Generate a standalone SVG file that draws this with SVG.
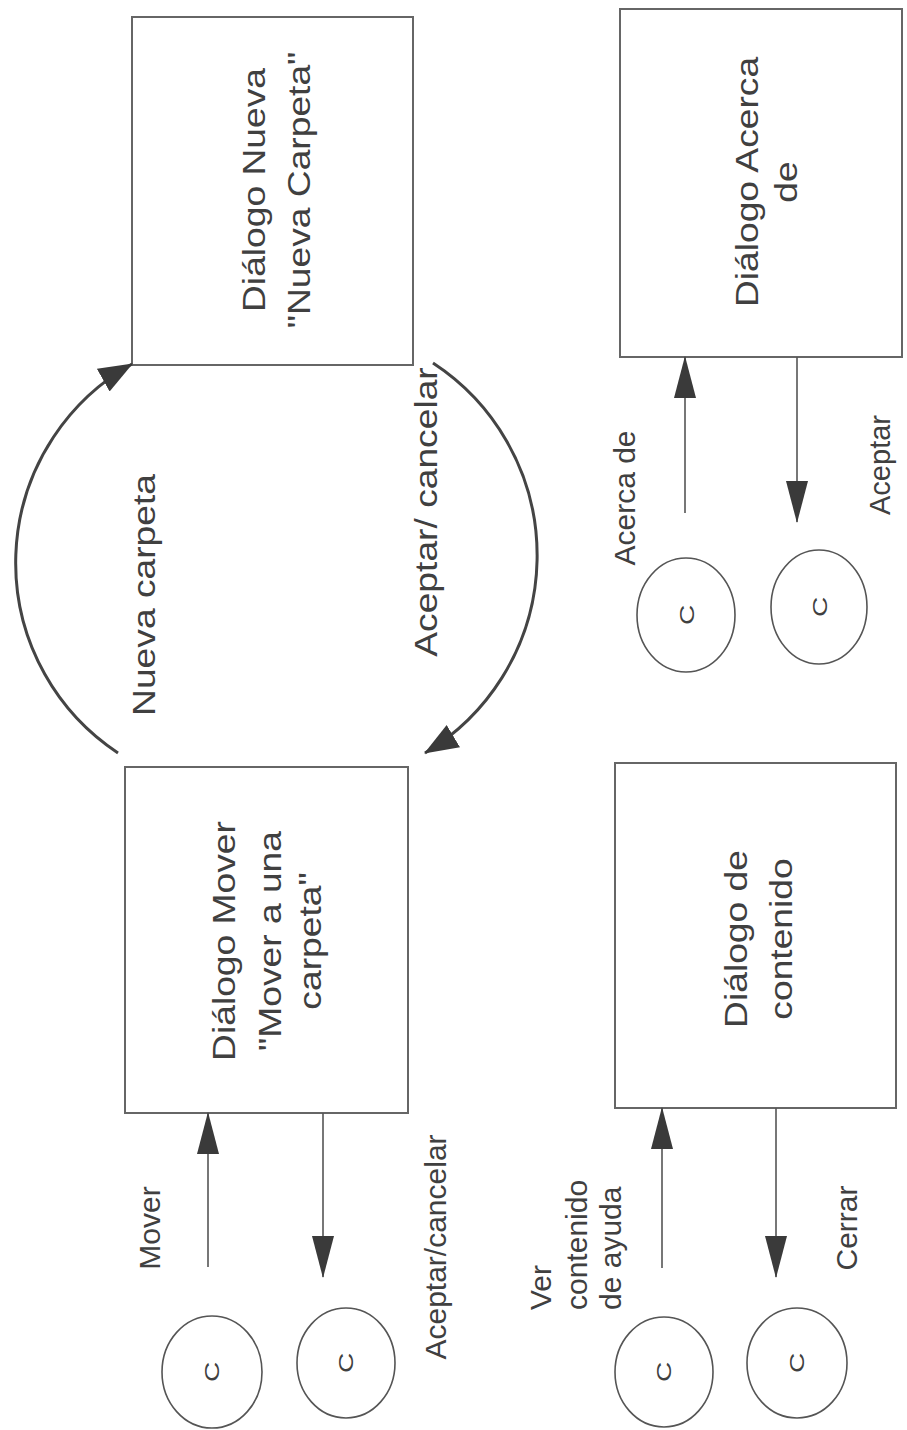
<svg xmlns="http://www.w3.org/2000/svg" width="907" height="1430" viewBox="0 0 907 1430">
<defs>
<style>
.box{fill:none;stroke:#666;stroke-width:2}
.t{font-family:"Liberation Sans",Arial,sans-serif;fill:#404040}
.big{font-size:31px}
.lbl{font-size:30px}
.c{font-size:20px}
.ln{stroke:#555;stroke-width:1.6;fill:none}
.arc{stroke:#444;stroke-width:3;fill:none}
.circ{fill:none;stroke:#555;stroke-width:1.6}
</style>
<marker id="ah" markerUnits="userSpaceOnUse" markerWidth="42" markerHeight="24" viewBox="0 0 42 24" refX="41" refY="12" orient="auto"><path d="M0,1 L42,12 L0,23 z" fill="#3a3a3a"/></marker>
<marker id="ah2" markerUnits="userSpaceOnUse" markerWidth="34" markerHeight="28" viewBox="0 0 34 28" refX="33" refY="14" orient="auto"><path d="M0,1 L34,14 L0,27 z" fill="#3a3a3a"/></marker>
</defs>
<rect width="907" height="1430" fill="#fff"/>

<g id="nodo-nueva-carpeta">
<rect class="box" x="132" y="17" width="281" height="348"/>
<text class="t big" text-anchor="middle" transform="translate(265,190) rotate(-90) scale(1.2,1)"><tspan x="0" y="0">Diálogo Nueva</tspan><tspan x="0" y="45">"Nueva Carpeta"</tspan></text>
</g>

<g id="nodo-acerca-de">
<rect class="box" x="620" y="9" width="282" height="348"/>
<text class="t big" text-anchor="middle" transform="translate(758,182) rotate(-90) scale(1.2,1)"><tspan x="0" y="0">Diálogo Acerca</tspan><tspan x="0" y="39">de</tspan></text>
</g>

<g id="nodo-mover">
<rect class="box" x="125" y="767" width="283" height="346"/>
<text class="t big" text-anchor="middle" transform="translate(235,941) rotate(-90) scale(1.2,1)"><tspan x="0" y="0">Diálogo Mover</tspan><tspan x="0" y="46">"Mover a una</tspan><tspan x="0" y="86">carpeta"</tspan></text>
</g>

<g id="nodo-contenido">
<rect class="box" x="615" y="763" width="281" height="345"/>
<text class="t big" text-anchor="middle" transform="translate(747,939) rotate(-90) scale(1.2,1)"><tspan x="0" y="0">Diálogo de</tspan><tspan x="0" y="45">contenido</tspan></text>
</g>

<g id="conectores-mover">
<ellipse class="circ" cx="212" cy="1372" rx="50" ry="56"/>
<text class="t c" text-anchor="middle" transform="translate(219,1372) rotate(-90) scale(1.4,1)">C</text>
<ellipse class="circ" cx="346" cy="1363" rx="49" ry="55"/>
<text class="t c" text-anchor="middle" transform="translate(353,1363) rotate(-90) scale(1.4,1)">C</text>
</g>

<g id="conectores-acerca">
<ellipse class="circ" cx="686" cy="615" rx="49" ry="57"/>
<text class="t c" text-anchor="middle" transform="translate(694,615) rotate(-90) scale(1.4,1)">C</text>
<ellipse class="circ" cx="819" cy="607" rx="48" ry="57"/>
<text class="t c" text-anchor="middle" transform="translate(827,607) rotate(-90) scale(1.4,1)">C</text>
</g>

<g id="conectores-contenido">
<ellipse class="circ" cx="664" cy="1372" rx="49" ry="55"/>
<text class="t c" text-anchor="middle" transform="translate(671,1372) rotate(-90) scale(1.4,1)">C</text>
<ellipse class="circ" cx="797" cy="1363" rx="50" ry="55"/>
<text class="t c" text-anchor="middle" transform="translate(804,1363) rotate(-90) scale(1.4,1)">C</text>
</g>

<g id="connectors">
<path class="arc" d="M118,753 A228,228 0 0 1 132,364" marker-end="url(#ah2)"/>
<path class="arc" d="M433,363 A230,230 0 0 1 425,753" marker-end="url(#ah2)"/>
<line class="ln" x1="208" y1="1267" x2="208" y2="1113" marker-end="url(#ah)"/>
<line class="ln" x1="323" y1="1113" x2="323" y2="1277" marker-end="url(#ah)"/>
<line class="ln" x1="685" y1="513" x2="685" y2="357" marker-end="url(#ah)"/>
<line class="ln" x1="797" y1="357" x2="797" y2="522" marker-end="url(#ah)"/>
<line class="ln" x1="662" y1="1268" x2="662" y2="1108" marker-end="url(#ah)"/>
<line class="ln" x1="776" y1="1108" x2="776" y2="1277" marker-end="url(#ah)"/>
</g>

<g id="etiquetas">
<text class="t big" text-anchor="middle" transform="translate(155,595) rotate(-90) scale(1.2,1)">Nueva carpeta</text>
<text class="t big" text-anchor="middle" transform="translate(437,512) rotate(-90) scale(1.2,1)">Aceptar/ cancelar</text>
<text class="t lbl" text-anchor="middle" transform="translate(160,1228) rotate(-90)">Mover</text>
<text class="t lbl" text-anchor="middle" transform="translate(446,1247) rotate(-90)">Aceptar/cancelar</text>
<text class="t lbl" text-anchor="middle" transform="translate(635,498) rotate(-90)">Acerca de</text>
<text class="t lbl" text-anchor="middle" transform="translate(890,465) rotate(-90)" style="font-size:29px">Aceptar</text>
<text class="t lbl" text-anchor="start" transform="translate(551,1310) rotate(-90)"><tspan x="0" y="0">Ver</tspan><tspan x="0" y="36">contenido</tspan><tspan x="0" y="70">de ayuda</tspan></text>
<text class="t lbl" text-anchor="middle" transform="translate(857,1228) rotate(-90)">Cerrar</text>
</g>
</svg>
